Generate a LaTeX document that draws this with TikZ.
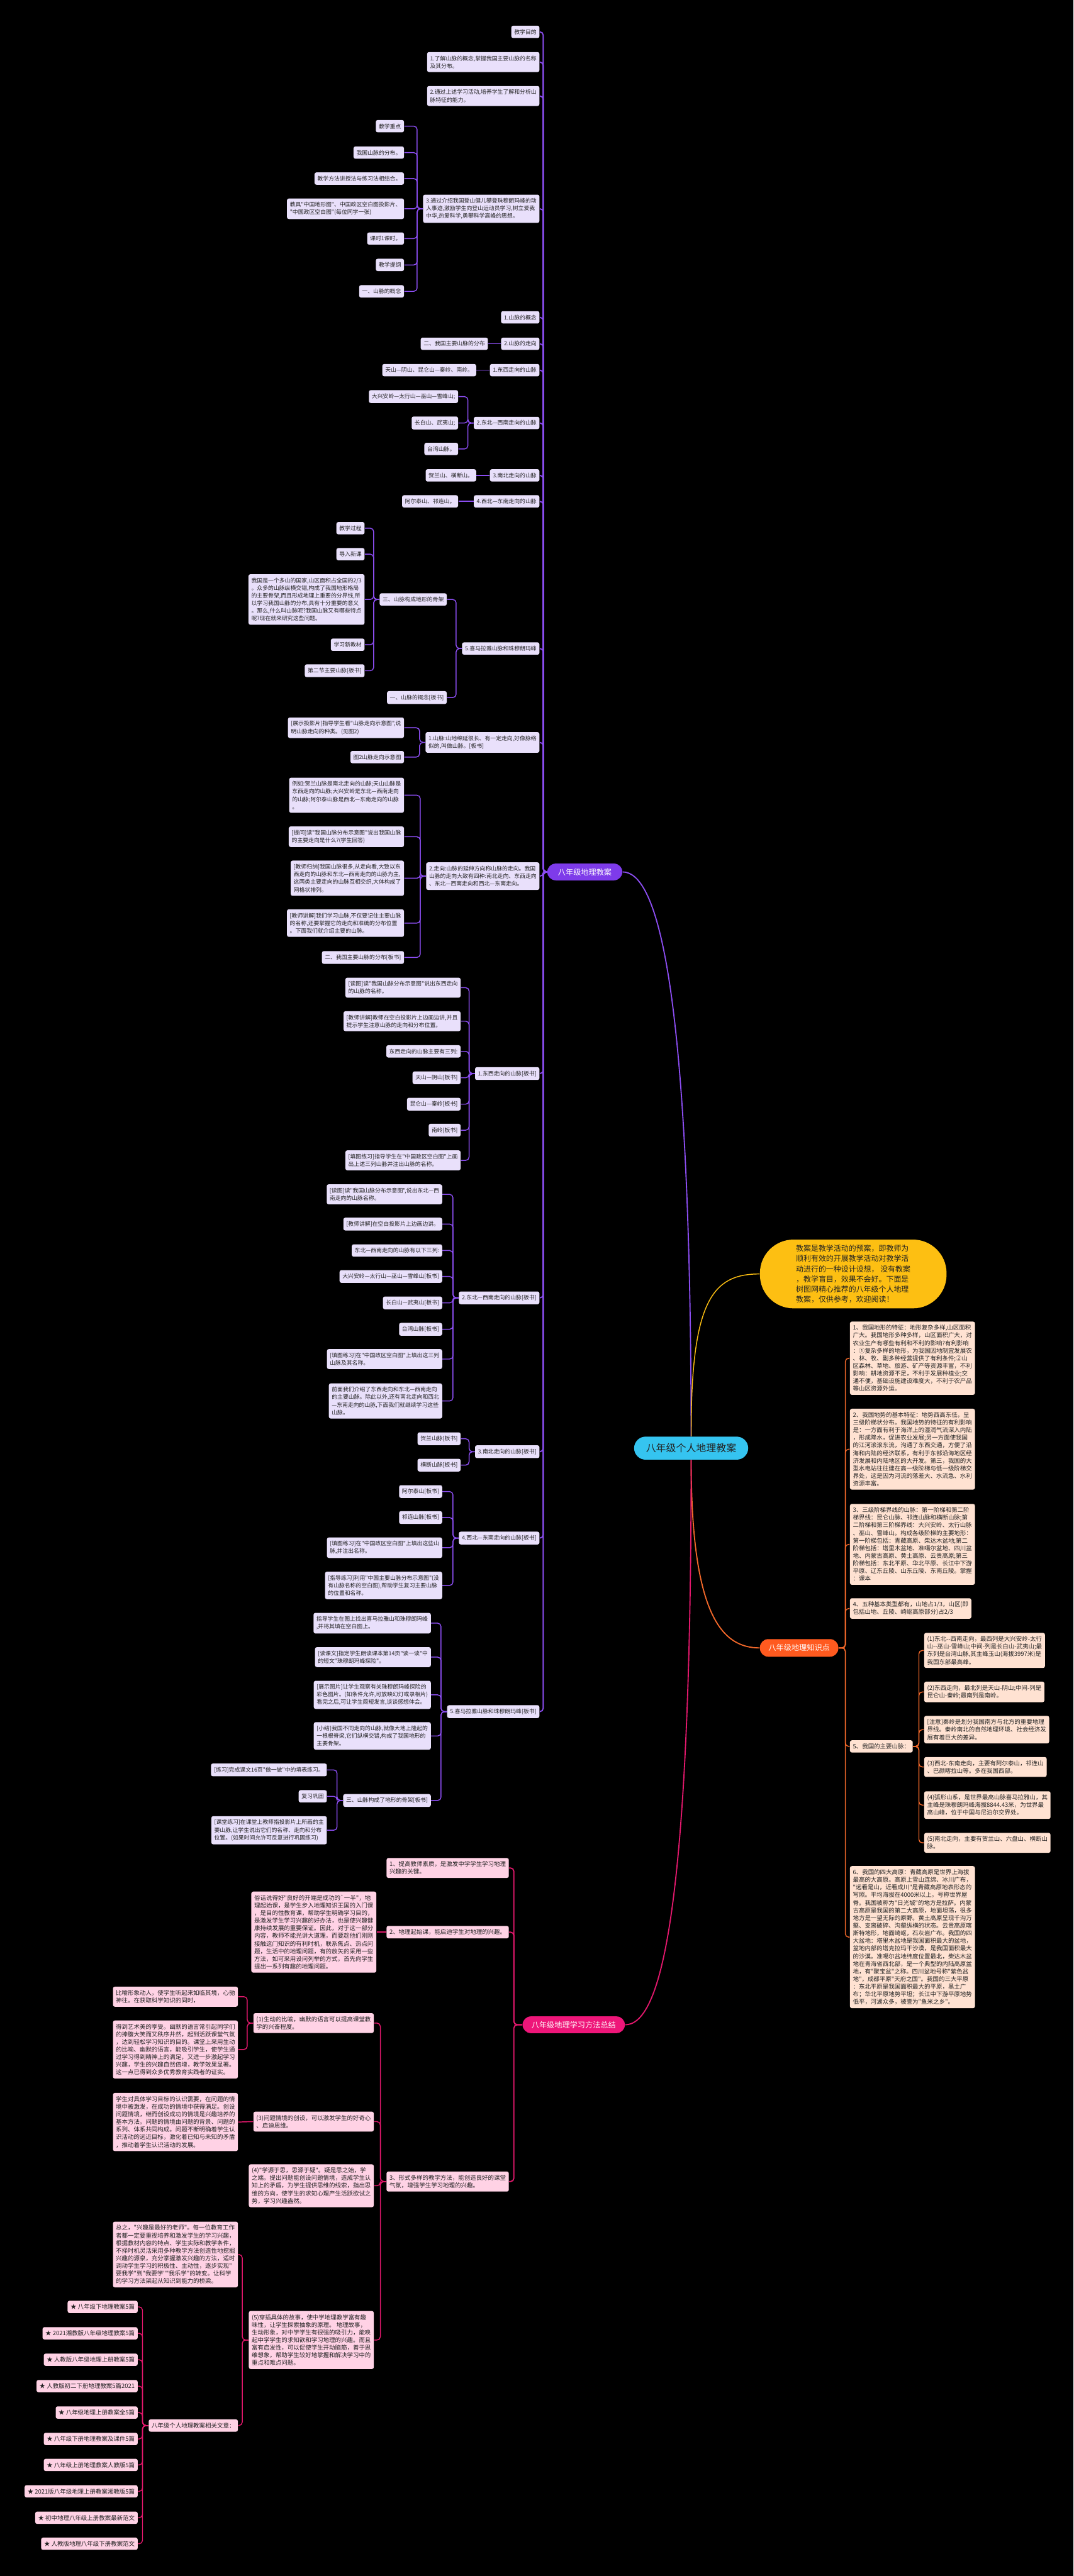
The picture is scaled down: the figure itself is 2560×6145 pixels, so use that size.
\documentclass[tikz,border=0pt]{standalone}
\usepackage{fontspec}
\newfontfamily\cjk{Noto Sans CJK SC}
\usepackage{xcolor}

\definecolor{rootblue}{HTML}{35C4F0}
\definecolor{introyellow}{HTML}{FDBF12}
\definecolor{planpurple}{HTML}{7E3BEA}
\definecolor{planline}{HTML}{8B4DF0}
\definecolor{planfill}{HTML}{E9E0FB}
\definecolor{knowred}{HTML}{FF5A1F}
\definecolor{knowline}{HTML}{F2682A}
\definecolor{knowfill}{HTML}{FFE2D2}
\definecolor{methpink}{HTML}{EE1679}
\definecolor{methline}{HTML}{E2186C}
\definecolor{methfill}{HTML}{FFD2E5}
\definecolor{inktext}{HTML}{222222}

\begin{document}
\begin{tikzpicture}[
 x=0.1mm,y=-0.1mm,
 every node/.style={font=\cjk},
 planbox/.style={fill=planfill,rounded corners=0.45mm,align=left,inner xsep=0.7mm,inner ysep=0.85mm,text=inktext,font=\cjk\fontsize{3.78}{5.18}\selectfont},
 knowbox/.style={planbox,fill=knowfill,inner ysep=0.8mm,font=\cjk\fontsize{4.04}{5.18}\selectfont},
 methbox/.style={knowbox,fill=methfill},
 pill/.style={rounded corners=2mm,text=white,inner sep=0pt,font=\cjk\fontsize{5.2}{6}\selectfont},
 planlink/.style={draw=planline,line width=0.22mm,rounded corners=0.8mm},
 knowlink/.style={planlink,draw=knowline},
 methlink/.style={planlink,draw=methline}
]
\fill[black] (0,0) rectangle (2560,6145);
\useasboundingbox (0,0) rectangle (2560,6145);

% centre and intro
\node[fill=rootblue,rounded corners=2.75mm,minimum width=27.2mm,minimum height=5.5mm,inner sep=0pt,text=inktext,font=\cjk\fontsize{6.8}{8}\selectfont] (root) at (1648,3454.5) {八年级个人地理教案};
\node[fill=introyellow,rounded corners=8mm,minimum width=44.5mm,minimum height=16.4mm,align=left,text=inktext,font=\cjk\fontsize{5.1}{6.9}\selectfont] (intro) at (2034.5,3039) {教案是教学活动的预案，即教师为\\顺利有效的开展教学活动对教学活\\动进行的一种设计设想， 没有教案\\，教学盲目，效果不会好。下面是\\树图网精心推荐的八年级个人地理\\教案，仅供参考，欢迎阅读！};

% three branches
\node[pill,fill=planpurple,minimum width=17.9mm,minimum height=4mm] (plan) at (1394.5,2080) {八年级地理教案};
\node[pill,fill=knowred,minimum width=18.7mm,minimum height=4.2mm] (know) at (1905.5,3931) {八年级地理知识点};
\node[pill,fill=methpink,minimum width=24.4mm,minimum height=4mm] (meth) at (1368,4830) {八年级地理学习方法总结};

\draw[planlink,line width=0.28mm] (root.north) .. controls (1647,2300) and (1560,2080) .. (plan.east);
\draw[draw=introyellow,line width=0.22mm] (root.north) .. controls (1647,3100) and (1700,3039) .. (intro.west);
\draw[knowlink,line width=0.28mm] (root.south) .. controls (1648,3850) and (1720,3931) .. (know.west);
\draw[methlink,line width=0.28mm] (root.south) .. controls (1648,4600) and (1570,4830) .. (meth.east);

% ---------- 八年级地理教案 ----------
\node[planbox,anchor=east] (m1) at (1287,76) {教学目的};
\node[planbox,anchor=east] (m2) at (1287,148) {1.了解山脉的概念,掌握我国主要山脉的名称\\及其分布。};
\node[planbox,anchor=east] (m3) at (1287,229) {2.通过上述学习活动,培养学生了解和分析山\\脉特征的能力。};
\node[planbox,anchor=east] (m4) at (1287,498) {3.通过介绍我国登山健儿攀登珠穆朗玛峰的动\\人事迹,激励学生向登山运动员学习,树立爱我\\中华,热爱科学,勇攀科学高峰的思想。};
\node[planbox,anchor=east] (m5) at (1287,757) {1.山脉的概念};
\node[planbox,anchor=east] (m6) at (1287,820) {2.山脉的走向};
\node[planbox,anchor=east] (m7) at (1287,883) {1.东西走向的山脉};
\node[planbox,anchor=east] (m8) at (1287,1009) {2.东北—西南走向的山脉};
\node[planbox,anchor=east] (m9) at (1287,1134) {3.南北走向的山脉};
\node[planbox,anchor=east] (m10) at (1287,1196) {4.西北—东南走向的山脉};
\node[planbox,anchor=east] (m11) at (1287,1547) {5.喜马拉雅山脉和珠穆朗玛峰};
\node[planbox,anchor=east] (m12) at (1287,1771) {1.山脉:山地绵延很长、有一定走向,好像脉络\\似的,叫做山脉。[板书]};
\node[planbox,anchor=east] (m13) at (1287,2090) {2.走向:山脉的延伸方向称山脉的走向。我国\\山脉的走向大致有四种:南北走向、东西走向\\、东北—西南走向和西北—东南走向。};
\node[planbox,anchor=east] (m14) at (1287,2561) {1.东西走向的山脉[板书]};
\node[planbox,anchor=east] (m15) at (1287,3096) {2.东北—西南走向的山脉[板书]};
\node[planbox,anchor=east] (m16) at (1287,3463) {3.南北走向的山脉[板书]};
\node[planbox,anchor=east] (m17) at (1287,3669) {4.西北—东南走向的山脉[板书]};
\node[planbox,anchor=east] (m18) at (1287,4083) {5.喜马拉雅山脉和珠穆朗玛峰[板书]};
\foreach \c in {m1,m2,m3,m4,m5,m6,m7,m8,m9,m10,m11,m12,m13,m14,m15,m16,m17,m18}
  \draw[planlink,line width=0.28mm] (plan.west) -- ++(-9,0) |- (\c.east);

\node[planbox,anchor=east] (a1) at (964,301) {教学重点};
\node[planbox,anchor=east] (a2) at (964,364) {我国山脉的分布。};
\node[planbox,anchor=east] (a3) at (964,426) {教学方法讲授法与练习法相结合。};
\node[planbox,anchor=east] (a4) at (964,498) {教具"中国地形图"、中国政区空白图投影片、\\"中国政区空白图"(每位同学一张)};
\node[planbox,anchor=east] (a5) at (964,569) {课时1课时。};
\node[planbox,anchor=east] (a6) at (964,632) {教学提纲};
\node[planbox,anchor=east] (a7) at (964,695) {一、山脉的概念};
\foreach \c in {a1,a2,a3,a4,a5,a6,a7}
  \draw[planlink] (m4.west) -- ++(-13.5,0) |- (\c.east);

\node[planbox,anchor=east] (b1) at (1164,820) {二、我国主要山脉的分布};
\node[planbox,anchor=east] (b2) at (1136,883) {天山—阴山、昆仑山—秦岭、南岭。};
\node[planbox,anchor=east] (b3) at (1093,946) {大兴安岭—太行山—巫山—雪峰山;};
\node[planbox,anchor=east] (b4) at (1093,1009) {长白山、武夷山;};
\node[planbox,anchor=east] (b5) at (1093,1071) {台湾山脉。};
\node[planbox,anchor=east] (b6) at (1136,1134) {贺兰山、横断山。};
\node[planbox,anchor=east] (b7) at (1093,1196) {阿尔泰山、祁连山。};
\draw[planlink] (m6.west) -- (b1.east);
\draw[planlink] (m7.west) -- (b2.east);
\foreach \c in {b3,b4,b5}
  \draw[planlink] (m8.west) -- ++(-13.5,0) |- (\c.east);
\draw[planlink] (m9.west) -- (b6.east);
\draw[planlink] (m10.west) -- (b7.east);

\node[planbox,anchor=east] (c1) at (1066,1430) {三、山脉构成地形的骨架};
\node[planbox,anchor=east] (c2) at (1066,1664) {一、山脉的概念[板书]};
\foreach \c in {c1,c2}
  \draw[planlink] (m11.west) -- ++(-13.5,0) |- (\c.east);

\node[planbox,anchor=east] (d1) at (870,1260) {教学过程};
\node[planbox,anchor=east] (d2) at (870,1322) {导入新课};
\node[planbox,anchor=east] (d3) at (870,1430) {我国是一个多山的国家,山区面积占全国的2/3\\。众多的山脉纵横交错,构成了我国地形格局\\的主要骨架,而且形成地理上重要的分界线,所\\以学习我国山脉的分布,具有十分重要的意义\\。那么,什么叫山脉呢?我国山脉又有哪些特点\\呢?现在就来研究这些问题。};
\node[planbox,anchor=east] (d4) at (870,1538) {学习新教材};
\node[planbox,anchor=east] (d5) at (870,1600) {第二节主要山脉[板书]};
\foreach \c in {d1,d2,d3,d4,d5}
  \draw[planlink] (c1.west) -- ++(-13.5,0) |- (\c.east);

\node[planbox,anchor=east] (e1) at (964,1736) {[展示投影片]指导学生看"山脉走向示意图",说\\明山脉走向的种类。(见图2)};
\node[planbox,anchor=east] (e2) at (964,1806) {图2山脉走向示意图};
\foreach \c in {e1,e2}
  \draw[planlink] (m12.west) -- ++(-13.5,0) |- (\c.east);

\node[planbox,anchor=east] (f1) at (964,1897) {例如:贺兰山脉是南北走向的山脉;天山山脉是\\东西走向的山脉;大兴安岭是东北—西南走向\\的山脉;阿尔泰山脉是西北—东南走向的山脉\\。};
\node[planbox,anchor=east] (f2) at (964,1996) {[提问]读"我国山脉分布示意图"说出我国山脉\\的主要走向是什么?(学生回答)};
\node[planbox,anchor=east] (f3) at (964,2095) {[教师归纳]我国山脉很多,从走向看,大致以东\\西走向的山脉和东北—西南走向的山脉为主,\\这两类主要走向的山脉互相交织,大体构成了\\网格状排列。};
\node[planbox,anchor=east] (f4) at (964,2202) {[教师讲解]我们学习山脉,不仅要记住主要山脉\\的名称,还要掌握它的走向和准确的分布位置\\。下面我们就介绍主要的山脉。};
\node[planbox,anchor=east] (f5) at (964,2284) {二、我国主要山脉的分布[板书]};
\foreach \c in {f1,f2,f3,f4,f5}
  \draw[planlink] (m13.west) -- ++(-13.5,0) |- (\c.east);

\node[planbox,anchor=east] (g1) at (1099,2356) {[读图]读"我国山脉分布示意图"说出东西走向\\的山脉的名称。};
\node[planbox,anchor=east] (g2) at (1099,2436) {[教师讲解]教师在空白投影片上边画边讲,并且\\提示学生注意山脉的走向和分布位置。};
\node[planbox,anchor=east] (g3) at (1099,2508) {东西走向的山脉主要有三列:};
\node[planbox,anchor=east] (g4) at (1099,2571) {天山—阴山[板书]};
\node[planbox,anchor=east] (g5) at (1099,2634) {昆仑山—秦岭[板书]};
\node[planbox,anchor=east] (g6) at (1099,2696) {南岭[板书]};
\node[planbox,anchor=east] (g7) at (1099,2768) {[填图练习]指导学生在"中国政区空白图"上画\\出上述三列山脉并注出山脉的名称。};
\foreach \c in {g1,g2,g3,g4,g5,g6,g7}
  \draw[planlink] (m14.west) -- ++(-13.5,0) |- (\c.east);

\node[planbox,anchor=east] (h1) at (1055,2849) {[读图]读"我国山脉分布示意图",说出东北—西\\南走向的山脉名称。};
\node[planbox,anchor=east] (h2) at (1055,2920) {[教师讲解]在空白投影片上边画边讲。};
\node[planbox,anchor=east] (h3) at (1055,2983) {东北—西南走向的山脉有以下三列:};
\node[planbox,anchor=east] (h4) at (1055,3045) {大兴安岭—太行山—巫山—雪峰山[板书]};
\node[planbox,anchor=east] (h5) at (1055,3108) {长白山—武夷山[板书]};
\node[planbox,anchor=east] (h6) at (1055,3171) {台湾山脉[板书]};
\node[planbox,anchor=east] (h7) at (1055,3242) {[填图练习]在"中国政区空白图"上填出这三列\\山脉及其名称。};
\node[planbox,anchor=east] (h8) at (1055,3342) {前面我们介绍了东西走向和东北—西南走向\\的主要山脉。除此以外,还有南北走向和西北\\—东南走向的山脉,下面我们就继续学习这些\\山脉。};
\foreach \c in {h1,h2,h3,h4,h5,h6,h7,h8}
  \draw[planlink] (m15.west) -- ++(-13.5,0) |- (\c.east);

\node[planbox,anchor=east] (i1) at (1099,3432) {贺兰山脉[板书]};
\node[planbox,anchor=east] (i2) at (1099,3495) {横断山脉[板书]};
\foreach \c in {i1,i2}
  \draw[planlink] (m16.west) -- ++(-13.5,0) |- (\c.east);

\node[planbox,anchor=east] (j1) at (1055,3558) {阿尔泰山[板书]};
\node[planbox,anchor=east] (j2) at (1055,3620) {祁连山脉[板书]};
\node[planbox,anchor=east] (j3) at (1055,3692) {[填图练习]在"中国政区空白图"上填出这些山\\脉,并注出名称。};
\node[planbox,anchor=east] (j4) at (1055,3782) {[指导练习]利用"中国主要山脉分布示意图"(没\\有山脉名称的空白图),帮助学生复习主要山脉\\的位置和名称。};
\foreach \c in {j1,j2,j3,j4}
  \draw[planlink] (m17.west) -- ++(-13.5,0) |- (\c.east);

\node[planbox,anchor=east] (k1) at (1028,3872) {指导学生在图上找出喜马拉雅山和珠穆朗玛峰\\,并将其填在空白图上。};
\node[planbox,anchor=east] (k2) at (1028,3953) {[读课文]指定学生朗读课本第14页"读一读"中\\的短文"珠穆朗玛峰探险"。};
\node[planbox,anchor=east] (k3) at (1028,4043) {[展示图片]让学生观察有关珠穆朗玛峰探险的\\彩色图片。(如条件允许,可放映幻灯或录相片)\\看完之后,可让学生简短发言,谈谈感想体会。};
\node[planbox,anchor=east] (k4) at (1028,4141) {[小结]我国不同走向的山脉,就像大地上隆起的\\一根根脊梁,它们纵横交错,构成了我国地形的\\主要骨架。};
\node[planbox,anchor=east] (k5) at (1028,4295) {三、山脉构成了地形的骨架[板书]};
\foreach \c in {k1,k2,k3,k4,k5}
  \draw[planlink] (m18.west) -- ++(-14,0) |- (\c.east);

\node[planbox,anchor=east] (l1) at (780,4222) {[练习]完成课文16页"做一做"中的填表练习。};
\node[planbox,anchor=east] (l2) at (780,4285) {复习巩固};
\node[planbox,anchor=east] (l3) at (780,4366) {[课堂练习]在课堂上教师指投影片上所画的主\\要山脉,让学生说出它们的名称、走向和分布\\位置。(如果时间允许可反复进行巩固练习)};
\foreach \c in {l1,l2,l3}
  \draw[planlink] (k5.west) -- ++(-14,0) |- (\c.east);

% ---------- 八年级地理知识点 ----------
\node[knowbox,anchor=west] (o1) at (2026,3240) {1、我国地形的特征：地形复杂多样,山区面积\\广大。我国地形多种多样，山区面积广大，对\\农业生产有哪些有利和不利的影响?有利影响\\：①复杂多样的地形，为我国因地制宜发展农\\、林、牧、副多种经营提供了有利条件;②山\\区森林、草地、旅游、矿产等资源丰富，不利\\影响：耕地资源不足，不利于发展种植业;交\\通不便，基础设施建设难度大，不利于农产品\\等山区资源外运。};
\node[knowbox,anchor=west] (o2) at (2026,3457) {2、我国地势的基本特征：地势西高东低，呈\\三级阶梯状分布。我国地势的特征的有利影响\\是：一方面有利于海洋上的湿润气流深入内陆\\，形成降水，促进农业发展;另一方面使我国\\的江河滚滚东流，沟通了东西交通，方便了沿\\海和内陆的经济联系，有利于东部沿海地区经\\济发展和内陆地区的大开发。第三，我国的大\\型水电站往往建在高一级阶梯与低一级阶梯交\\界处，这是因为河流的落差大、水流急、水利\\资源丰富。};
\node[knowbox,anchor=west] (o3) at (2026,3684) {3、三级阶梯界线的山脉：第一阶梯和第二阶\\梯界线：昆仑山脉、祁连山脉和横断山脉;第\\二阶梯和第三阶梯界线：大兴安岭、太行山脉\\、巫山、雪峰山。构成各级阶梯的主要地形：\\第一阶梯包括：青藏高原、柴达木盆地;第二\\阶梯包括：塔里木盆地、准噶尔盆地、四川盆\\地、内蒙古高原、黄土高原、云贵高原;第三\\阶梯包括：东北平原、华北平原、长江中下游\\平原、辽东丘陵、山东丘陵、东南丘陵。掌握\\：课本};
\node[knowbox,anchor=west] (o4) at (2026,3837) {4、五种基本类型都有，山地占1/3，山区(即\\包括山地、丘陵、崎岖高原部分)占2/3};
\node[knowbox,anchor=west] (o5) at (2026,4166) {5、我国的主要山脉：};
\node[knowbox,anchor=west] (o6) at (2026,4621) {6、我国的四大高原：青藏高原是世界上海拔\\最高的大高原。高原上雪山连绵、冰川广布，\\"远看是山，近看成川"是青藏高原地表形态的\\写照。平均海拔在4000米以上，号称世界屋\\脊。我国被称为"日光城"的地方是拉萨。内蒙\\古高原是我国的第二大高原，地面坦荡，很多\\地方是一望无际的原野。黄土高原呈现千沟万\\壑、支离破碎、沟壑纵横的状态。云贵高原喀\\斯特地形，地面崎岖，石灰岩广布。我国的四\\大盆地：塔里木盆地是我国面积最大的盆地，\\盆地内部的塔克拉玛干沙漠，是我国面积最大\\的沙漠。准噶尔盆地纬度位置最北，柴达木盆\\地在青海省西北部，是一个典型的内陆高原盆\\地，有"聚宝盆"之称。四川盆地号称"紫色盆\\地"，成都平原"天府之国"。我国的三大平原\\：东北平原是我国面积最大的平原，黑土广\\布；华北平原地势平坦；长江中下游平原地势\\低平，河湖众多，被誉为"鱼米之乡"。};
\foreach \c in {o1,o2,o3,o4,o5,o6}
  \draw[knowlink] (know.east) -- ++(16,0) |- (\c.west);

\node[knowbox,anchor=west] (p1) at (2203,3937) {(1)东北-{}-西南走向，最西列是大兴安岭-太行\\山-{}-巫山-雪峰山;中间-列是长白山-武夷山;最\\东列是台湾山脉,其主峰玉山(海拔3997米)是\\我国东部最高峰。};
\node[knowbox,anchor=west] (p2) at (2203,4036) {(2)东西走向，最北列是天山-阴山;中间-列是\\昆仑山-秦岭;最南列是南岭。};
\node[knowbox,anchor=west] (p3) at (2203,4126) {[注意]秦岭是划分我国南方与北方的重要地理\\界线。秦岭南北的自然地理环境、社会经济发\\展有着巨大的差异。};
\node[knowbox,anchor=west] (p4) at (2203,4215) {(3)西北-东南走向，主要有阿尔泰山，祁连山\\、巴颜喀拉山等。多在我国西部。};
\node[knowbox,anchor=west] (p5) at (2203,4306) {(4)弧形山系，是世界最高山脉喜马拉雅山，其\\主峰是珠穆朗玛峰海拔8844.43米，为世界最\\高山峰，位于中国与尼泊尔交界处。};
\node[knowbox,anchor=west] (p6) at (2203,4396) {(5)南北走向，主要有贺兰山、六盘山、横断山\\脉。};
\foreach \c in {p1,p2,p3,p4,p5,p6}
  \draw[knowlink] (o5.east) -- ++(14,0) |- (\c.west);

% ---------- 八年级地理学习方法总结 ----------
\node[methbox,anchor=east] (q1) at (1214,4456) {1、提高教师素质，是激发中学学生学习地理\\兴趣的关键。};
\node[methbox,anchor=east] (q2) at (1214,4609) {2、地理起始课，能启迪学生对地理的兴趣。};
\node[methbox,anchor=east] (q3) at (1214,5204) {3、形式多样的教学方法，能创造良好的课堂\\气氛，增强学生学习地理的兴趣。};
\foreach \c in {q1,q2,q3}
  \draw[methlink,line width=0.28mm] (meth.west) -- ++(-20,0) |- (\c.east);

\node[methbox,anchor=east] (r1) at (898,4609) {俗话说得好"良好的开端是成功的{\char"60}一半"，地\\理起始课，是学生步入地理知识王国的入门课\\，是目的性教育课，帮助学生明确学习目的，\\是激发学生学习兴趣的好办法，也是使兴趣健\\康持续发展的重要保证。因此，对于这一部分\\内容，教师不能光讲大道理，而要趁他们刚刚\\接触这门知识的有利时机，联系焦点、热点问\\题，生活中的地理问题，有的放矢的采用一些\\方法，如可采用设问列举的方式，首先向学生\\提出一系列有趣的地理问题。};
\draw[methlink] (q2.west) -- (r1.east);

\node[methbox,anchor=east] (s1) at (892,4826) {(1)生动的比喻，幽默的语言可以提高课堂教\\学的兴奋程度。};
\node[methbox,anchor=east] (s3) at (892,5061) {(3)问题情境的创设，可以激发学生的好奇心\\、启迪思维。};
\node[methbox,anchor=east] (s4) at (892,5214) {(4)"学源于思，思源于疑"。疑是思之始，学\\之端。提出问题能创设问题情境，造成学生认\\知上的矛盾，为学生提供思维的线索，指出思\\维的方向，使学生的求知心理产生活跃欲试之\\势，学习兴趣盎然。};
\node[methbox,anchor=east] (s5) at (892,5582) {(5)穿插具体的故事，使中学地理教学富有趣\\味性，让学生探索抽象的原理。 地理故事，\\生动形象，对中学学生有很强的吸引力，能唤\\起中学学生的求知欲和学习地理的兴趣。而且\\富有启发性，可以促使学生开动脑筋，善于思\\维想象，帮助学生较好地掌握和解决学习中的\\重点和难点问题。};
\foreach \c in {s1,s3,s4,s5}
  \draw[methlink] (q3.west) -- ++(-14,0) |- (\c.east);

\node[methbox,anchor=east] (t1) at (568,4763) {比喻形象动人，使学生听起来如临其境，心驰\\神往。在获取科学知识的同时，};
\node[methbox,anchor=east] (t2) at (568,4889) {得到艺术美的享受。幽默的语言常引起同学们\\的捧腹大笑而又秩序井然，起到活跃课堂气氛\\，达到轻松学习知识的目的。课堂上采用生动\\的比喻、幽默的语言，能吸引学生，使学生通\\过学习得到精神上的满足，又进一步激起学习\\兴趣，学生的兴趣自然倍增，教学效果显著。\\这一点已得到众多优秀教育实践者的证实。};
\foreach \c in {t1,t2}
  \draw[methlink] (s1.west) -- ++(-14,0) |- (\c.east);
\node[methbox,anchor=east] (t3) at (568,5062) {学生对具体学习目标的认识需要，在问题的情\\境中被激发，在成功的情境中获得满足。创设\\问题情境，继而创设成功的情境是兴趣培养的\\基本方法。问题的情境由问题的背景、问题的\\系列、体系共同构成。问题不断明确着学生认\\识活动的远近目标，激化着已知与未知的矛盾\\，推动着学生认识活动的发展。};
\draw[methlink] (s3.west) -- (t3.east);

\node[methbox,anchor=east] (t4) at (568,5378) {总之，"兴趣是最好的老师"。每一位教育工作\\者都一定要重视培养和激发学生的学习兴趣，\\根据教材内容的特点、学生实际和教学条件，\\不择时机灵活采用多种教学方法创造性地挖掘\\兴趣的源泉，充分掌握激发兴趣的方法，适时\\调动学生学习的积极性、主动性，逐步实现"\\要我学"到"我要学""我乐学"的转变。让科学\\的学习方法架起从知识到能力的桥梁。};
\node[methbox,anchor=east] (t5) at (568,5786) {八年级个人地理教案相关文章：};
\foreach \c in {t4,t5}
  \draw[methlink] (s5.west) -- ++(-15,0) |- (\c.east);

\foreach [count=\i] \y/\txt in {5503/八年级下地理教案5篇,5566/2021湘教版八年级地理教案5篇,5629/人教版八年级地理上册教案5篇,5692/人教版初二下册地理教案5篇2021,5755/八年级地理上册教案全5篇,5818/八年级下册地理教案及课件5篇,5880/八年级上册地理教案人教版5篇,5943/2021版八年级地理上册教案湘教版5篇,6006/初中地理八年级上册教案最新范文,6068/人教版地理八年级下册教案范文}{
  \node[methbox,anchor=east] (star\i) at (329,\y) {★ \txt};
  \draw[methlink] (t5.west) -- ++(-14,0) |- (star\i.east);
}
\end{tikzpicture}
\end{document}
